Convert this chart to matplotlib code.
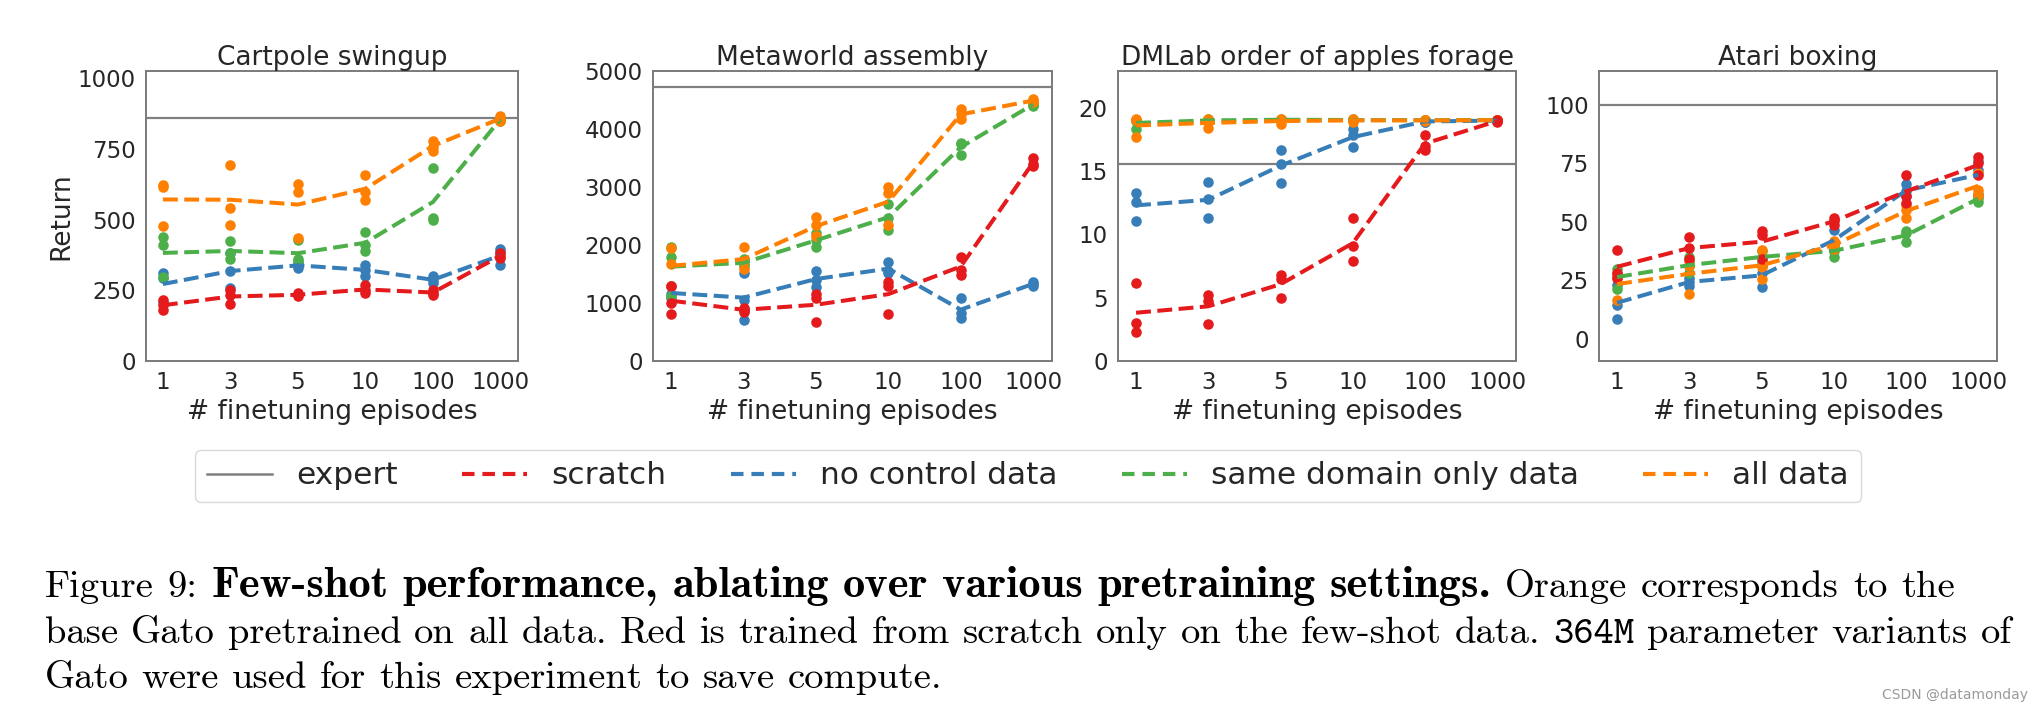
import os
import numpy as np
import matplotlib
matplotlib.use("Agg")
import matplotlib.pyplot as plt
from matplotlib.lines import Line2D
from matplotlib.font_manager import FontProperties

# ---------------- data ----------------
x_labels = ["1", "3", "5", "10", "100", "1000"]
series_names = ["scratch", "no control data", "same domain only data", "all data"]
series_colors = ["#e41a1c", "#377eb8", "#4daf4a", "#ff7f00"]
task_titles = ["Cartpole swingup", "Metaworld assembly",
               "DMLab order of apples forage", "Atari boxing"]
expert_values = [860, 4730, 15.55, 100]

# Cartpole swingup: per-seed points (6 x 3) and mean lines
cartpole_scratch_pts = [[215, 198, 180], [250, 233, 200], [240, 235, 228], [269, 251, 240], [250, 242, 235], [380, 370, 365]]
cartpole_scratch_mean = [197, 228, 234, 253, 242, 372]
cartpole_nocontrol_pts = [[310, 292, 210], [318, 257, 380], [345, 340, 330], [340, 322, 302], [300, 285, 275], [395, 385, 340]]
cartpole_nocontrol_mean = [272, 318, 338, 322, 287, 373]
cartpole_samedomain_pts = [[437, 410, 298], [424, 381, 361], [428, 360, 355], [455, 410, 390], [681, 507, 499], [860, 855, 850]]
cartpole_samedomain_mean = [382, 389, 381, 418, 562, 855]
cartpole_alldata_pts = [[622, 615, 476], [691, 540, 479], [626, 599, 434], [658, 599, 570], [778, 758, 743], [865, 855, 850]]
cartpole_alldata_mean = [571, 570, 553, 609, 760, 857]

# Metaworld assembly
metaworld_scratch_pts = [[1300, 1000, 807], [920, 880, 850], [1150, 1090, 670], [1360, 1290, 810], [1800, 1570, 1490], [3500, 3400, 3370]]
metaworld_scratch_mean = [1040, 883, 970, 1153, 1630, 3423]
metaworld_nocontrol_pts = [[1290, 1150, 1080], [1515, 1054, 709], [1560, 1400, 1280], [1700, 1560, 1520], [1083, 824, 749], [1370, 1330, 1290]]
metaworld_nocontrol_mean = [1173, 1093, 1413, 1593, 885, 1330]
metaworld_samedomain_pts = [[1960, 1800, 1120], [1760, 1680, 1640], [2200, 2080, 1960], [2708, 2466, 2264], [3760, 3740, 3560], [4440, 4420, 4400]]
metaworld_samedomain_mean = [1627, 1693, 2080, 2479, 3687, 4424]
metaworld_alldata_pts = [[1940, 1680, 1290], [1970, 1720, 1580], [2477, 2350, 2149], [2996, 2898, 2350], [4338, 4252, 4165], [4511, 4482, 4470]]
metaworld_alldata_mean = [1640, 1757, 2325, 2748, 4252, 4490]

# DMLab order of apples forage
dmlab_scratch_pts = [[6.15, 2.98, 2.30], [5.25, 4.75, 2.95], [6.78, 6.47, 4.94], [11.27, 9.05, 7.92], [17.87, 16.63, 17.0], [19.0, 18.95, 18.9]]
dmlab_scratch_mean = [3.81, 4.32, 6.06, 9.3, 17.17, 18.95]
dmlab_nocontrol_pts = [[13.25, 12.54, 11.08], [14.12, 12.8, 11.27], [16.63, 15.57, 14.07], [18.34, 17.81, 16.89], [19.0, 18.9, 18.85], [19.0, 19.0, 18.95]]
dmlab_nocontrol_mean = [12.29, 12.73, 15.42, 17.68, 18.92, 18.98]
dmlab_samedomain_pts = [[19.05, 18.95, 18.3], [19.1, 19.0, 18.95], [19.1, 19.05, 19.0], [19.1, 19.0, 19.0], [19.05, 19.0, 19.0], [19.05, 19.0, 19.0]]
dmlab_samedomain_mean = [18.8, 19.0, 19.05, 19.03, 19.02, 19.02]
dmlab_alldata_pts = [[19.13, 19.0, 17.68], [19.1, 18.9, 18.4], [19.1, 19.0, 18.75], [19.1, 19.0, 18.9], [19.05, 19.0, 18.95], [19.05, 19.0, 19.0]]
dmlab_alldata_mean = [18.6, 18.8, 18.95, 19.0, 19.0, 19.02]

# Atari boxing
atari_scratch_pts = [[38.0, 28, 26], [43.4, 38.7, 34.0], [45.9, 44.1, 34.2], [51.5, 50.2, 48.5], [69.8, 61, 58], [77.5, 75, 70]]
atari_scratch_mean = [30.7, 38.7, 41.4, 50.1, 62.9, 74.2]
atari_nocontrol_pts = [[23, 14.2, 8.3], [26, 24, 22.5], [31, 28, 22.1], [46.3, 41, 38.7], [66, 63, 61], [76, 72, 62]]
atari_nocontrol_mean = [15.3, 24.2, 27.0, 42.0, 63.3, 70.0]
atari_samedomain_pts = [[29.9, 27.5, 21.4], [34.9, 31, 28.2], [37.5, 34.5, 32.8], [40, 37.5, 35], [46, 45, 41.3], [61, 60, 58.5]]
atari_samedomain_mean = [26.3, 31.4, 34.9, 37.5, 44.1, 59.8]
atari_alldata_pts = [[27.5, 26, 16.4], [33, 31, 19.2], [37.7, 30.6, 25.6], [41.5, 40, 38.5], [57, 55, 51.5], [71, 63.5, 61.5]]
atari_alldata_mean = [23.3, 27.7, 31.3, 40.0, 54.5, 65.3]

y_limits = [(0, 1025), (0, 5000), (0, 22.9), (-9.6, 114.4)]
y_ticks = [[0, 250, 500, 750, 1000], [0, 1000, 2000, 3000, 4000, 5000],
           [0, 5, 10, 15, 20], [0, 25, 50, 75, 100]]

tasks = [
    [(cartpole_scratch_pts, cartpole_scratch_mean), (cartpole_nocontrol_pts, cartpole_nocontrol_mean),
     (cartpole_samedomain_pts, cartpole_samedomain_mean), (cartpole_alldata_pts, cartpole_alldata_mean)],
    [(metaworld_scratch_pts, metaworld_scratch_mean), (metaworld_nocontrol_pts, metaworld_nocontrol_mean),
     (metaworld_samedomain_pts, metaworld_samedomain_mean), (metaworld_alldata_pts, metaworld_alldata_mean)],
    [(dmlab_scratch_pts, dmlab_scratch_mean), (dmlab_nocontrol_pts, dmlab_nocontrol_mean),
     (dmlab_samedomain_pts, dmlab_samedomain_mean), (dmlab_alldata_pts, dmlab_alldata_mean)],
    [(atari_scratch_pts, atari_scratch_mean), (atari_nocontrol_pts, atari_nocontrol_mean),
     (atari_samedomain_pts, atari_samedomain_mean), (atari_alldata_pts, atari_alldata_mean)],
]

# ---------------- figure ----------------
W, H = 2044, 711
plt.rcParams["font.family"] = ["DejaVu Sans"]
fig = plt.figure(figsize=(W / 100, H / 100), dpi=100)
fig.patch.set_facecolor("white")

TXT = "#262626"
axes_px = [(146, 372), (653, 399), (1118, 398), (1599, 398)]
ax_top, ax_bot = 71, 361
draw_order = [1, 2, 3, 0]

for k in range(4):
    l, w = axes_px[k]
    ax = fig.add_axes([l / W, 1 - ax_bot / H, w / W, (ax_bot - ax_top) / H])
    xs = np.arange(len(x_labels))
    ax.axhline(expert_values[k], color="#808080", lw=1.6, zorder=1)
    for s in draw_order:
        pts, mean = tasks[k][s]
        pts = np.asarray(pts)
        for j in range(pts.shape[1]):
            ax.plot(xs, pts[:, j], "o", ms=7.6, color=series_colors[s], mec="none", zorder=2)
        ax.plot(xs, mean, "--", lw=2.9, color=series_colors[s], zorder=3)
    ax.set_xlim(-0.25, 5.26)
    ax.set_ylim(*y_limits[k])
    ax.set_xticks(xs)
    ax.set_xticklabels(x_labels)
    ax.set_yticks(y_ticks[k])
    ax.tick_params(length=0, labelsize=16.5, labelcolor=TXT, pad=7.5)
    for sp in ax.spines.values():
        sp.set_color("#7a7a7a")
        sp.set_linewidth(1.4)
    ax.set_title(task_titles[k], fontsize=19, color=TXT, pad=4.5)
    ax.set_xlabel("# finetuning episodes", fontsize=19, color=TXT, labelpad=3)
    if k == 0:
        ax.set_ylabel("Return", fontsize=19, color=TXT, labelpad=2.5)

handles = [Line2D([], [], color="#808080", lw=1.8)]
handles += [Line2D([], [], color=c, lw=3.0, ls=(0, (3.0, 1.9))) for c in series_colors]
labels = ["expert"] + series_names
fig.legend(handles, labels, loc="center", bbox_to_anchor=(1028 / W, 1 - 476 / H),
           ncol=5, fontsize=22.5, handlelength=2.08, handletextpad=0.78, columnspacing=2.05,
           frameon=True, fancybox=True, edgecolor="#d0d0d0", borderpad=0.38,
           labelcolor=TXT)

# ---------------- caption ----------------
ttf = os.path.join(matplotlib.get_data_path(), "fonts", "ttf")
def fp(name, fallback, weight="normal"):
    p = os.path.join(ttf, name)
    if os.path.exists(p):
        return lambda size: FontProperties(fname=p, size=size)
    return lambda size: FontProperties(family=fallback, weight=weight, size=size)

F_R = fp("cmr10.ttf", "Liberation Serif")
F_B = fp("cmb10.ttf", "Liberation Serif", "bold")
F_T = fp("cmtt10.ttf", "Liberation Mono")

line1 = [("Figure", F_R), ("9:", F_R), ("Few-shot", F_B), ("performance,", F_B), ("ablating", F_B),
         ("over", F_B), ("various", F_B), ("pretraining", F_B), ("settings.", F_B),
         ("Orange", F_R), ("corresponds", F_R), ("to", F_R), ("the", F_R)]
line2 = [(w, F_R) for w in "base Gato pretrained on all data. Red is trained from scratch only on the few-shot data.".split()]
line2 += [("364M", F_T)] + [(w, F_R) for w in "parameter variants of".split()]
line3 = [(w, F_R) for w in "Gato were used for this experiment to save compute.".split()]

renderer = fig.canvas.get_renderer()
def width(word, f, size):
    t = fig.text(0, 0, word, fontproperties=f(size))
    w = t.get_window_extent(renderer).width
    t.remove()
    return w

base = 20.0
space_em = 0.333
nat3 = sum(width(w, f, base) for w, f in line3) + (len(line3) - 1) * space_em * base * 100 / 72
size = base * 896 / nat3
gap_nat = space_em * size * 100 / 72

def place(words, x0, x1, y, justify, bold_scale=1.0):
    sizes = [size * (bold_scale if f is F_B else 1.0) for w, f in words]
    ws = [width(w, f, sz) for (w, f), sz in zip(words, sizes)]
    gap = gap_nat
    if justify:
        gap = (x1 - x0 - sum(ws)) / (len(words) - 1)
    x = x0
    for (w, f), wd, sz in zip(words, ws, sizes):
        fig.text(x / W, 1 - y / H, w, fontproperties=f(sz), color="black", va="baseline", ha="left")
        x += wd + gap

# widen bold (cmb10 is narrower than the bold-extended face in the reference)
target1 = 1955 - 45
R1 = sum(width(w, f, size) for w, f in line1 if f is not F_B)
B1 = sum(width(w, f, size) for w, f in line1 if f is F_B)
bscale = (target1 - R1 - (len(line1) - 1) * gap_nat * 1.08) / B1
bscale = min(max(bscale, 1.0), 1.15)

place(line1, 45, 1955, 597, True, bold_scale=bscale)
place(line2, 45, 2012, 643, True)
place(line3, 45, 941, 688, False)

fig.text(2028 / W, 1 - 699 / H, "CSDN @datamonday", ha="right", va="baseline",
         fontsize=10, color="#9a9a9a")

fig.savefig("out.png", dpi=100, facecolor="white")
